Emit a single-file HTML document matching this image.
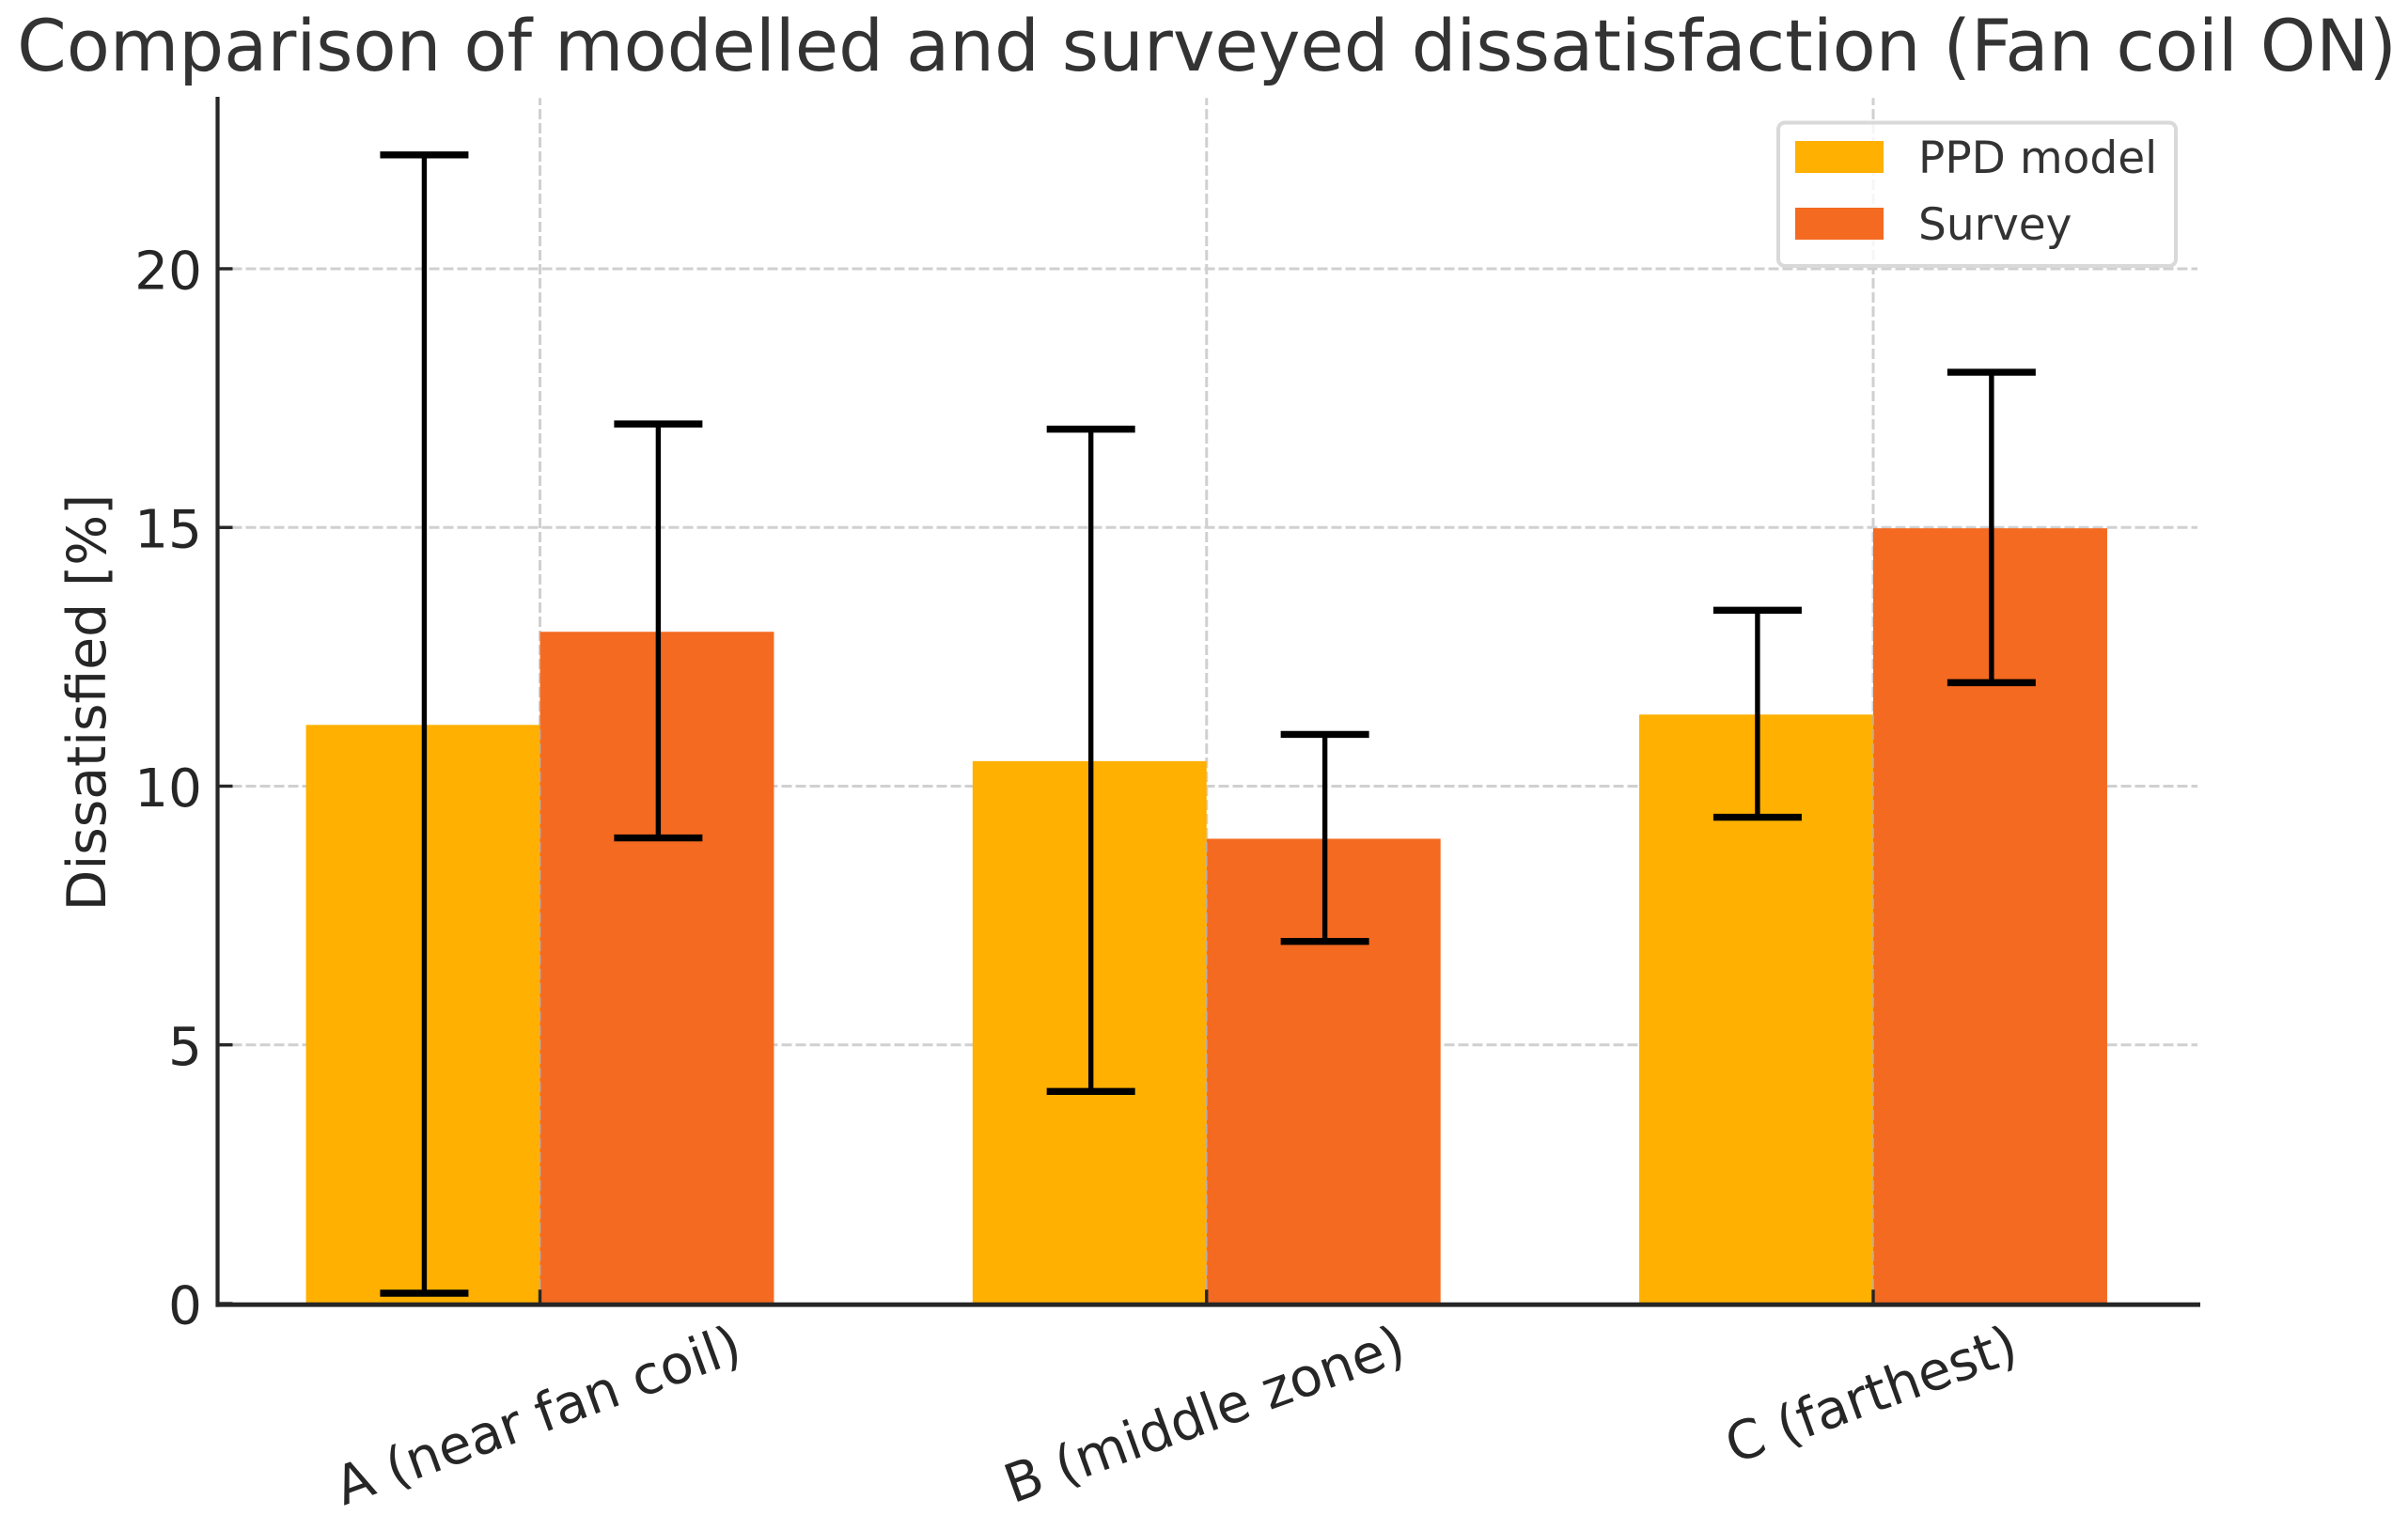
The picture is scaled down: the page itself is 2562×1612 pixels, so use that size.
<!DOCTYPE html>
<html lang="en">
<head>
<meta charset="utf-8">
<title>Comparison of modelled and surveyed dissatisfaction (Fan coil ON)</title>
<style>
  html, body { margin: 0; padding: 0; background: #fff; }
  svg { display: block; font-family: "DejaVu Sans", "Liberation Sans", sans-serif; }
</style>
</head>
<body>
<svg id="chart" xmlns="http://www.w3.org/2000/svg" width="2562" height="1612" viewBox="0 0 2562 1612"></svg>
<script>
const categories = ["A (near fan coil)", "B (middle zone)", "C (farthest)"];
const ppdValues = [11.2, 10.5, 11.4];
const ppdErrors = [11.0, 6.4, 2.0];
const surveyValues = [13, 9, 15];
const surveyErrors = [4, 2, 3];
const yTickValues = [0, 5, 10, 15, 20];
const yMaximum = 23.3;
const seriesNames = ["PPD model", "Survey"];

const svg = document.getElementById('chart');
const NS = 'http://www.w3.org/2000/svg';
const plotLeft = 231.5, plotRight = 2341, plotTop = 104.3, plotBottom = 1387, spineY = 1388.2;
const catFirstPx = 574.5, catStepPx = 709.25, barWidthUnits = 0.351;
const errorShift = 1.4, barTopShift = 0.9;
const colors = ['#ffb000', '#f46a21'];

function xScale(v) { return catFirstPx + v * catStepPx; }
function yScale(v) { return plotBottom - v * (plotBottom - plotTop) / yMaximum; }
function make(tag, parent) {
  const el = document.createElementNS(NS, tag);
  parent.appendChild(el);
  return el;
}
function setAll(el, props) {
  Object.keys(props).forEach(function (k) { el.setAttribute(k, props[k]); });
}

const bg = make('rect', svg);
setAll(bg, { x: 0, y: 0, width: 2562, height: 1612, fill: '#fff' });



const title = make('text', svg);
setAll(title, { x: 1284, y: 75, 'text-anchor': 'middle', 'font-size': 75.4, fill: '#333333' });
title.textContent = 'Comparison of modelled and surveyed dissatisfaction (Fan coil ON)';



const gridAttrs = { stroke: '#d0d0d0', 'stroke-width': 3, 'stroke-dasharray': '11 4' };

yTickValues.forEach(function (t) {
  if (t === 0) return;
  const g = make('line', svg);
  setAll(g, gridAttrs);
  setAll(g, { x1: plotLeft, x2: 2338, y1: yScale(t), y2: yScale(t) });
  
  
});

categories.forEach(function (c, i) {
  const g = make('line', svg);
  setAll(g, gridAttrs);
  setAll(g, { x1: xScale(i), x2: xScale(i), y1: plotBottom, y2: plotTop });
  
  
});

function drawBars(values, offsetSign, color, seriesName) {
  values.forEach(function (v, i) {
    const left = xScale(i + (offsetSign < 0 ? -barWidthUnits : 0));
    const r = make('rect', svg);
    setAll(r, {
      x: left,
      y: yScale(v) + barTopShift,
      width: barWidthUnits * catStepPx,
      height: yScale(0) - yScale(v) - barTopShift,
      fill: color
    });
    
    
  });
}
drawBars(ppdValues, -1, colors[0], 'ppd-model');
drawBars(surveyValues, 1, colors[1], 'survey');

categories.forEach(function (c, i) {
  const seam = make('line', svg);
  setAll(seam, gridAttrs);
  setAll(seam, { x1: xScale(i), x2: xScale(i), y1: plotBottom, y2: yScale(Math.min(ppdValues[i], surveyValues[i])), 'stroke-width': 1.6, stroke: '#b9b0a0' });
  
  
});

function drawErrors(values, errors, offsetSign, seriesName) {
  values.forEach(function (v, i) {
    const cx = xScale(i + offsetSign * barWidthUnits / 2) + errorShift;
    const hi = yScale(v + errors[i]);
    const lo = yScale(v - errors[i]);
    const stem = make('line', svg);
    setAll(stem, { x1: cx, x2: cx, y1: hi, y2: lo, stroke: '#000', 'stroke-width': 5.4 });
    
    
    [hi, lo].forEach(function (y) {
      const cap = make('line', svg);
      setAll(cap, { x1: cx - 47, x2: cx + 47, y1: y, y2: y, stroke: '#000', 'stroke-width': 7.4 });
      
      
    });
  });
}
drawErrors(ppdValues, ppdErrors, -1, 'ppd-model');
drawErrors(surveyValues, surveyErrors, 1, 'survey');

const axisColor = '#262626';

yTickValues.forEach(function (t) {
  const tick = make('line', svg);
  setAll(tick, { x1: plotLeft, x2: plotLeft + 16, y1: yScale(t), y2: yScale(t), stroke: axisColor, 'stroke-width': 3.4 });
  
  
  const lab = make('text', svg);
  setAll(lab, { x: 215, y: yScale(t) + 21.5, 'text-anchor': 'end', 'font-size': 56.5, fill: axisColor });
  lab.textContent = String(t);
  
  
});

const xLabelTop = 1407, xLabelAngle = 20;
categories.forEach(function (c, i) {
  const tick = make('line', svg);
  setAll(tick, { x1: xScale(i), x2: xScale(i), y1: spineY, y2: spineY - 16, stroke: axisColor, 'stroke-width': 3.4 });
  
  
  const lab = make('text', svg);
  setAll(lab, { x: 0, y: 0, 'text-anchor': 'middle', 'font-size': 56.7, fill: axisColor });
  lab.textContent = c;
  
  
  const rad = xLabelAngle * Math.PI / 180;
  const w = lab.getComputedTextLength();
  const h = 55 * 0.95;
  const cy = xLabelTop + (w * Math.sin(rad) + h * Math.cos(rad)) / 2;
  lab.setAttribute('transform', 'translate(' + (xScale(i) - 1) + ' ' + cy + ') rotate(' + (-xLabelAngle) + ') translate(0 16)');
});

const yTitle = make('text', svg);
setAll(yTitle, { transform: 'translate(112 747.5) rotate(-90)', 'text-anchor': 'middle', 'font-size': 56.7, fill: axisColor });
yTitle.textContent = 'Dissatisfied [%]';



const spineLeft = make('line', svg);
setAll(spineLeft, { x1: plotLeft, x2: plotLeft, y1: 103, y2: spineY + 2.4, stroke: axisColor, 'stroke-width': 4.2 });



const spineBottom = make('line', svg);
setAll(spineBottom, { x1: plotLeft - 2, x2: plotRight, y1: spineY, y2: spineY, stroke: axisColor, 'stroke-width': 4.8 });



const legendBox = make('rect', svg);
setAll(legendBox, { x: 1892, y: 130.5, width: 423, height: 152.5, rx: 7, ry: 7, fill: 'rgba(255,255,255,0.8)', stroke: '#d9d9d9', 'stroke-width': 4 });



seriesNames.forEach(function (name, i) {
  const sw = make('rect', svg);
  setAll(sw, { x: 1910, y: 150 + i * 71, width: 94, height: 34, fill: colors[i] });
  
  
  const tx = make('text', svg);
  setAll(tx, { x: 2041, y: 184 + i * 71, 'font-size': 47, fill: '#333333' });
  tx.textContent = name;
  
  
});
</script>
</body>
</html>
